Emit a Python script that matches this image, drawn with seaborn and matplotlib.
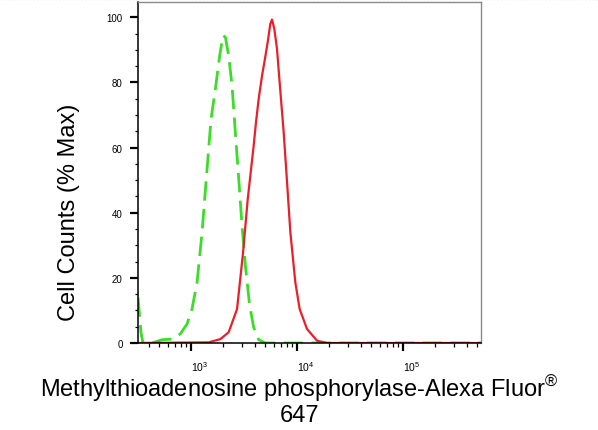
import pandas as pd
import numpy as np
import matplotlib
matplotlib.use("Agg")
import matplotlib.pyplot as plt
import matplotlib.ticker as mticker
from matplotlib.lines import Line2D
import seaborn as sns

# fluorescence intensity (x) and % of max (y)
control_x = [316, 337, 352, 429, 532, 662, 793, 916, 1021, 1140, 1271, 1416, 1545, 1698,
             1862, 2004, 2109, 2265, 2438, 2618, 2818, 3027, 3258, 3573, 3899, 4345,
             5023, 550000]
control_y = [14.0, 3.3, 0, 0, 1.0, 1.2, 2.8, 5.8, 10.4, 18.6, 34.0, 53.4, 68.8, 78.0,
             88.2, 94.4, 93.9, 88.2, 79.0, 64.7, 50.4, 36.0, 23.7, 11.5, 4.8, 1.0,
             0, 0]

stained_x = [316, 1469, 1892, 2265, 2716, 3097, 3428, 3899, 4102, 4345, 4677, 4920,
             5284, 5598, 5808, 6109, 6471, 6855, 7482, 8054, 8650, 9638, 10593,
             12417, 15453, 19187, 550000]
stained_y = [0, 0.2, 1.2, 3.3, 10.4, 27.8, 44.2, 60.6, 67.8, 74.9, 82.1, 86.2,
             92.3, 98.0, 99.3, 96.4, 90.3, 80.0, 64.7, 49.3, 34.0, 18.6, 10.4,
             4.3, 0.7, 0, 0]

x_ticks = [1e3, 1e4, 1e5]
y_ticks = [0, 20, 40, 60, 80, 100]

sns.set_style("white")
plt.rcParams["font.family"] = ["Liberation Sans", "DejaVu Sans"]
plt.rcParams["mathtext.fontset"] = "custom"
plt.rcParams["mathtext.rm"] = "Liberation Sans"
plt.rcParams["text.color"] = "black"
plt.rcParams["axes.labelcolor"] = "black"
plt.rcParams["xtick.color"] = "black"
plt.rcParams["ytick.color"] = "black"

control = pd.DataFrame({"x": control_x, "y": control_y})
stained = pd.DataFrame({"x": stained_x, "y": stained_y})

fig = plt.figure(figsize=(5.98, 4.31), dpi=100)
ax = fig.add_axes([138 / 598, 87 / 431, 343 / 598, 341 / 431])

sns.lineplot(data=control, x="x", y="y", ax=ax, color="#3ddc2a", linewidth=2.0,
             linestyle=(0, (7, 3)), sort=False)
sns.lineplot(data=stained, x="x", y="y", ax=ax, color="#e8202a", linewidth=1.6,
             sort=False)

ax.set_xscale("log")
ax.set_xlim(316, 544000)
ax.set_ylim(0, 104.7)

ax.set_xticks(x_ticks)
ax.xaxis.set_major_formatter(mticker.LogFormatterSciNotation())
ax.xaxis.set_minor_locator(mticker.LogLocator(base=10, subs=np.arange(2, 10)))
ax.xaxis.set_minor_formatter(mticker.NullFormatter())
ax.set_yticks(y_ticks)
ax.yaxis.set_minor_locator(mticker.MultipleLocator(5))

ax.tick_params(axis="both", which="major", direction="out", length=5.5, width=1.6,
               bottom=True, left=True)
ax.tick_params(axis="x", which="minor", direction="out", length=3.2, width=0.9,
               bottom=True)
ax.tick_params(axis="y", which="minor", direction="out", length=2.2, width=0.9,
               left=True)
ax.tick_params(axis="y", which="major", labelsize=7, pad=5.5)
ax.tick_params(axis="x", which="major", labelsize=7.5, pad=6)
for lab in ax.get_xticklabels():
    lab.set_horizontalalignment("left")

for side in ["left", "bottom"]:
    ax.spines[side].set_color("black")
    ax.spines[side].set_linewidth(1.1)
for side in ["top", "right"]:
    ax.spines[side].set_color("#8a8a8a")
    ax.spines[side].set_linewidth(1.0)

ax.set_xlabel("Methylthioadenosine phosphorylase-Alexa Fluor$^{\u00ae}$\n647", fontsize=17,
              linespacing=1.05)
ax.xaxis.set_label_coords(0.471, -0.085)
ax.set_ylabel("Cell Counts (% Max)", fontsize=17)
ax.yaxis.set_label_coords(-0.17, 0.385)

fig.add_artist(Line2D([0, 1], [0.999, 0.999], transform=fig.transFigure,
                      color="#cfcfcf", linewidth=1, linestyle=":"))

fig.savefig("out.png", dpi=100)
